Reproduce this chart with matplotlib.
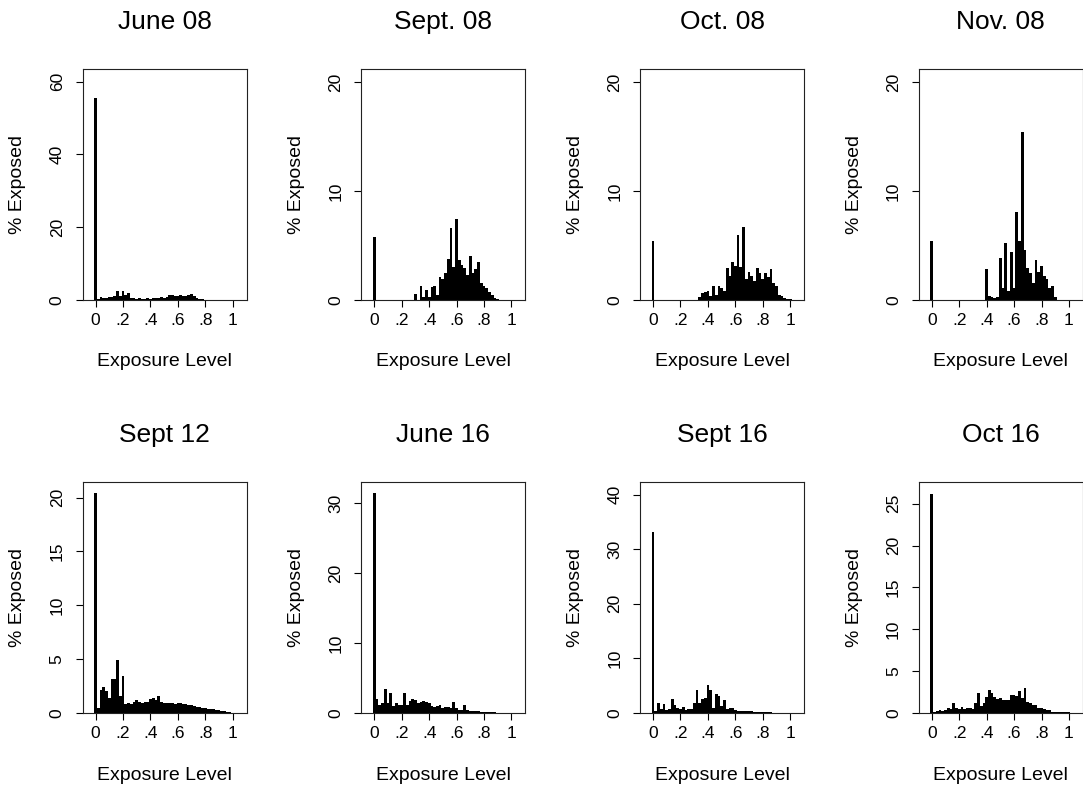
import matplotlib
matplotlib.use("Agg")
import matplotlib.pyplot as plt
import numpy as np

# Share of people (%) at each exposure level, bins 0.02 wide centred on 0, .02, ... 1
exposure_bins = np.round(np.arange(51) * 0.02, 2)

june_08 = [55.6, 0.3, 0.7, 0.6, 0.6, 0.7, 0.8, 1.0, 2.5, 1.2,
           2.4, 1.3, 1.8, 0.6, 0.5, 0.4, 0.5, 0.4, 0.4, 0.5,
           0.4, 0.6, 0.5, 0.5, 0.7, 0.6, 0.8, 1.5, 1.4, 1.0,
           1.2, 1.3, 1.2, 1.1, 1.3, 1.7, 1.2, 0.6, 0.4, 0.2,
           0, 0, 0, 0, 0, 0, 0, 0, 0, 0, 0]

sept_08 = [5.8, 0, 0, 0, 0, 0, 0, 0, 0, 0,
           0, 0, 0, 0, 0, 0.55, 0, 1.25, 0.3, 0.9,
           0.3, 1.2, 1.3, 0.5, 2.1, 1.9, 2.5, 3.8, 6.6, 3.0,
           7.4, 3.7, 3.2, 2.9, 2.3, 4.0, 2.5, 2.8, 3.5, 1.6,
           1.25, 1.1, 0.7, 0.5, 0.2, 0.1, 0, 0, 0, 0, 0]

oct_08 = [5.4, 0, 0, 0, 0, 0, 0, 0, 0, 0,
          0, 0, 0, 0, 0, 0, 0, 0.3, 0.6, 0.7,
          0.8, 0.4, 1.25, 0.5, 1.25, 1.1, 0.8, 2.9, 2.2, 3.5,
          3.1, 6.0, 3.0, 6.7, 1.9, 2.6, 2.2, 1.7, 2.9, 2.5,
          1.9, 2.5, 2.1, 2.8, 1.6, 1.3, 0.45, 0.35, 0.2, 0.1, 0.05]

nov_08 = [5.4, 0, 0, 0, 0, 0, 0, 0, 0, 0,
          0, 0, 0, 0, 0, 0, 0, 0, 0, 0,
          2.8, 0.35, 0.3, 0.15, 0.25, 3.9, 1.1, 5.2, 0.8, 4.4,
          1.1, 8.1, 5.4, 15.4, 4.6, 2.9, 2.5, 1.6, 3.7, 2.6,
          3.1, 2.2, 1.9, 1.1, 1.25, 0.3, 0, 0, 0, 0, 0]

sept_12 = [20.4, 0.5, 2.1, 2.4, 2.0, 1.4, 3.2, 3.2, 4.9, 1.6,
           3.4, 0.8, 0.9, 0.8, 1.0, 1.2, 1.05, 0.9, 1.0, 1.0,
           1.3, 1.35, 1.2, 1.6, 1.0, 0.9, 0.95, 0.95, 0.95, 0.85,
           0.9, 0.9, 0.85, 0.85, 0.7, 0.7, 0.65, 0.6, 0.55, 0.5,
           0.45, 0.4, 0.4, 0.35, 0.3, 0.25, 0.2, 0.18, 0.12, 0.06, 0.03]

june_16 = [31.4, 2.0, 1.2, 1.4, 3.4, 1.5, 2.9, 1.0, 1.5, 1.1,
           1.15, 2.9, 1.2, 1.7, 2.0, 1.85, 1.5, 1.6, 1.65, 1.6,
           1.5, 1.0, 0.9, 1.0, 1.15, 0.7, 0.9, 0.8, 0.75, 1.6,
           0.75, 0.45, 0.45, 1.1, 0.45, 0.3, 0.25, 0.25, 0.25, 0.2,
           0.2, 0.15, 0.15, 0.1, 0.1, 0.05, 0, 0, 0, 0, 0]

sept_16 = [33.1, 0.35, 1.8, 0.7, 1.6, 0.55, 0.7, 2.5, 1.4, 1.0,
           0.7, 1.1, 0.55, 0.7, 0.8, 1.9, 4.2, 1.9, 2.5, 2.8,
           5.2, 4.3, 1.0, 3.4, 3.05, 1.3, 2.3, 0.7, 1.0, 1.0,
           0.55, 0.45, 0.4, 0.35, 0.35, 0.3, 0.3, 0.25, 0.25, 0.25,
           0.2, 0.2, 0.15, 0.1, 0.06, 0, 0, 0, 0, 0, 0]

oct_16 = [26.2, 0.1, 0.25, 0.4, 0.2, 0.3, 0.6, 0.45, 1.15, 0.65,
          0.5, 0.7, 0.5, 0.55, 0.6, 0.5, 1.2, 2.4, 0.85, 1.2,
          1.95, 2.7, 2.4, 1.95, 1.7, 1.85, 1.6, 1.6, 1.55, 2.2,
          2.1, 2.0, 2.6, 1.8, 3.0, 1.35, 1.2, 1.0, 0.9, 0.6,
          0.65, 0.45, 0.35, 0.3, 0.15, 0.1, 0.08, 0.12, 0.15, 0.12, 0.08]

panel_titles = ["June 08", "Sept. 08", "Oct. 08", "Nov. 08",
                "Sept 12", "June 16", "Sept 16", "Oct 16"]
panel_values = [june_08, sept_08, oct_08, nov_08,
                sept_12, june_16, sept_16, oct_16]
y_tops = [63.5, 21.2, 21.2, 21.2, 21.45, 33.0, 42.3, 27.6]
y_steps = [20, 10, 10, 10, 5, 10, 10, 5]

x_ticks = [0, 0.2, 0.4, 0.6, 0.8, 1.0]
x_tick_labels = ["0", ".2", ".4", ".6", ".8", "1"]

plt.rcParams['font.family'] = ['Liberation Sans', 'DejaVu Sans']

W, H = 1083, 791
LEFTS = [82.5, 361.2, 640.0, 918.7]
TOPS = [69.0, 482.0]
AX_W, AX_H = 164.0, 231.0


def draw_panel(ax, title, values, y_top, y_step):
    ax.bar(exposure_bins, values, width=0.02, color="black", linewidth=0)
    ax.set_xlim(-0.095, 1.1)
    ax.set_ylim(0, y_top)

    ax.set_xticks(x_ticks)
    ax.set_xticklabels(x_tick_labels)
    ax.set_yticks(np.arange(0, y_top, y_step))
    ax.tick_params(direction="out", length=5.3, width=0.8, labelsize=12.5, colors="black")
    ax.tick_params(axis="x", pad=4)
    ax.tick_params(axis="y", pad=7.5)
    plt.setp(ax.get_yticklabels(), rotation=90, va="center")

    for spine in ax.spines.values():
        spine.set_linewidth(0.8)
        spine.set_color("#222222")

    # title, x label and y label placed in pixel offsets from the box
    ax.text(0.5, 1 + (TOPS[0] - 21.7) / AX_H, title, transform=ax.transAxes,
            ha="center", va="center", fontsize=19)
    ax.text(0.5, -62.0 / AX_H, "Exposure Level", transform=ax.transAxes,
            ha="center", va="center", fontsize=14)
    ax.text(-(LEFTS[0] - 18.0) / AX_W, 0.5, "% Exposed", transform=ax.transAxes,
            ha="center", va="center", rotation=90, fontsize=14)


def main():
    fig = plt.figure(figsize=(W / 100, H / 100), dpi=100)
    for i, (title, values) in enumerate(zip(panel_titles, panel_values)):
        row, col = divmod(i, 4)
        rect = [LEFTS[col] / W, (H - TOPS[row] - AX_H) / H, AX_W / W, AX_H / H]
        ax = fig.add_axes(rect)
        draw_panel(ax, title, values, y_tops[i], y_steps[i])
    fig.savefig("out.png", dpi=100)


if __name__ == '__main__':
    main()
